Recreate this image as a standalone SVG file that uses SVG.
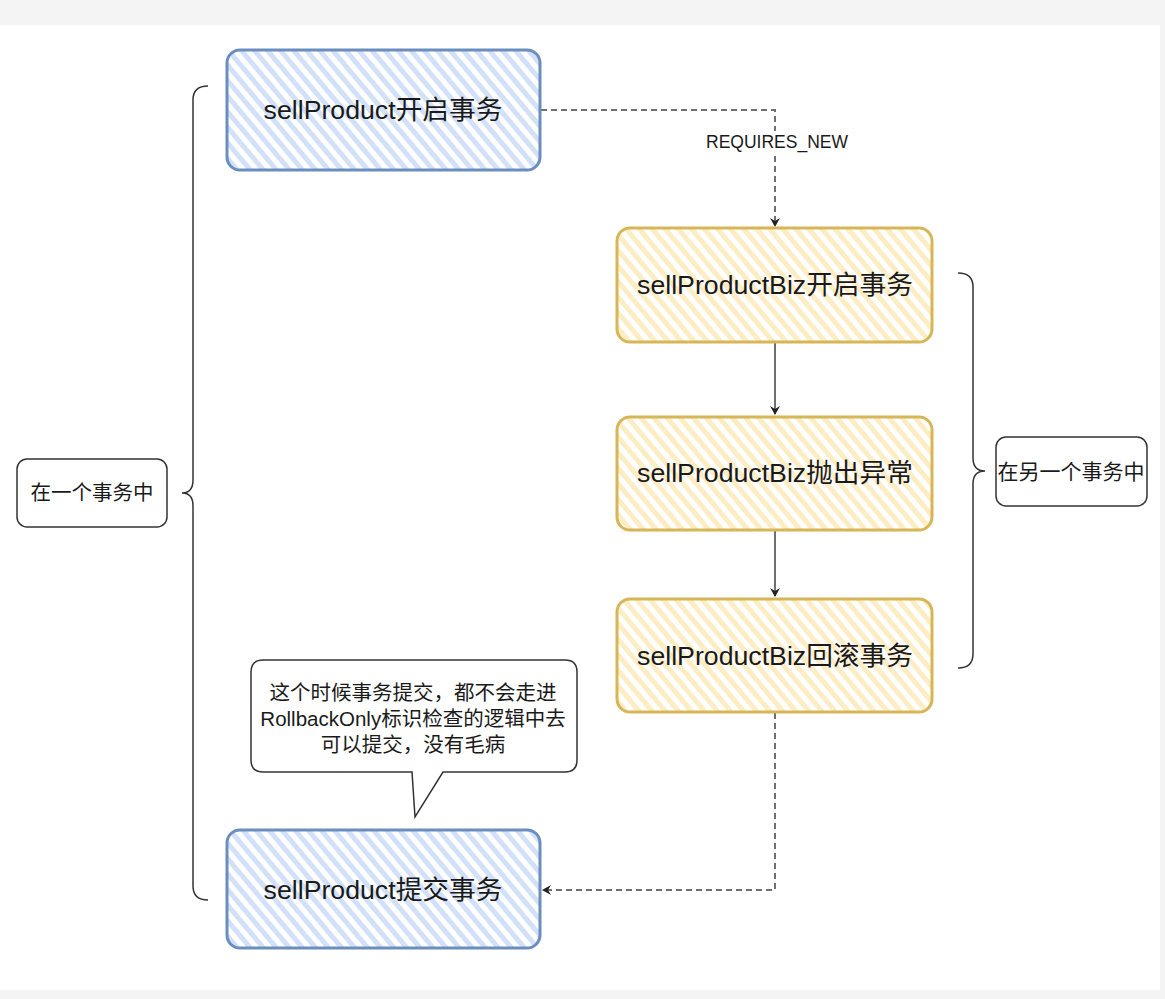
<svg xmlns="http://www.w3.org/2000/svg" width="1165" height="999" viewBox="0 0 1165 999">
<style>
text { font-family: "Liberation Sans", Arial, "Noto Sans CJK SC", sans-serif; fill: #1a1a1a; }
.big { font-size: 26.7px; }
.blue { fill: url(#hatchBlue); stroke: #6c8ebf; stroke-width: 3; }
.yellow { fill: url(#hatchYellow); stroke: #d6b656; stroke-width: 3; }
.plain { fill: #ffffff; stroke: #333333; stroke-width: 1.5; }
.brace { fill: none; stroke: #333333; stroke-width: 1.5; }
.dash { fill: none; stroke: #707070; stroke-width: 2; stroke-dasharray: 6 4; }
.solid { fill: none; stroke: #707070; stroke-width: 2; }
</style>
<defs>
<pattern id="hatchBlue" patternUnits="userSpaceOnUse" width="10" height="10" patternTransform="rotate(-40)">
<rect width="10" height="10" fill="#ffffff"/>
<rect width="5" height="10" fill="#d2e1f8"/>
</pattern>
<pattern id="hatchYellow" patternUnits="userSpaceOnUse" width="10" height="10" patternTransform="rotate(-40)">
<rect width="10" height="10" fill="#ffffff"/>
<rect width="5" height="10" fill="#fdedc4"/>
</pattern>
<marker id="arr" markerWidth="10" markerHeight="10" refX="8" refY="5" orient="auto" markerUnits="userSpaceOnUse">
<path d="M0,0 L9,5 L0,10 L3,5 Z" fill="#222222"/>
</marker>
</defs>
<rect x="0" y="0" width="1165" height="999" fill="#f4f4f4"/>
<rect x="0" y="25" width="1160" height="965" fill="#ffffff"/>

<g id="connectors">
<path class="dash" d="M541,110 L775,110 L775,226" marker-end="url(#arr)"/>
<rect x="703" y="131" width="148" height="22" fill="#ffffff"/>
<text x="777" y="148" text-anchor="middle" font-size="17.5" fill="#222">REQUIRES_NEW</text>
<path class="solid" d="M775,343 L775,414" marker-end="url(#arr)"/>
<path class="solid" d="M775,531 L775,596" marker-end="url(#arr)"/>
<path class="dash" d="M775,713 L775,890 L543,890" marker-end="url(#arr)"/>
</g>

<g id="node-start">
<rect class="blue" x="227" y="50" width="313" height="120" rx="13"/>
<text class="big" x="383" y="119" text-anchor="middle">sellProduct开启事务</text>
</g>
<g id="node-biz-start">
<rect class="yellow" x="617" y="228" width="315" height="114" rx="13"/>
<text class="big" x="775" y="294" text-anchor="middle">sellProductBiz开启事务</text>
</g>
<g id="node-biz-throw">
<rect class="yellow" x="617" y="417" width="315" height="113" rx="13"/>
<text class="big" x="775" y="482" text-anchor="middle">sellProductBiz抛出异常</text>
</g>
<g id="node-biz-rollback">
<rect class="yellow" x="617" y="599" width="315" height="113" rx="13"/>
<text class="big" x="775" y="665" text-anchor="middle">sellProductBiz回滚事务</text>
</g>
<g id="node-commit">
<rect class="blue" x="227" y="830" width="313" height="118" rx="13"/>
<text class="big" x="383" y="899" text-anchor="middle">sellProduct提交事务</text>
</g>

<g id="brace-left">
<path class="brace" d="M208,86 Q193,86 193,100 L193,480 Q193,493 182,493 Q193,493 193,506 L193,886 Q193,900 208,900"/>
</g>
<g id="brace-right">
<path class="brace" d="M958,273 Q973,273 973,287 L973,458 Q973,471 985,471 Q973,471 973,484 L973,654 Q973,668 958,668"/>
</g>

<g id="label-one-tx">
<rect class="plain" x="17" y="459" width="150" height="68" rx="10"/>
<text x="92" y="500" text-anchor="middle" font-size="20.5">在一个事务中</text>
</g>
<g id="label-other-tx">
<rect class="plain" x="996" y="437" width="151" height="69" rx="10"/>
<text x="1071" y="479" text-anchor="middle" font-size="21">在另一个事务中</text>
</g>

<g id="callout">
<path class="plain" d="M263,660 L565,660 Q577,660 577,672 L577,760 Q577,772 565,772 L443,772 L415,817 L412,772 L263,772 Q251,772 251,760 L251,672 Q251,660 263,660 Z"/>
<text x="413" y="700" text-anchor="middle" font-size="20.5">这个时候事务提交，都不会走进</text>
<text x="413" y="726" text-anchor="middle" font-size="20.5">RollbackOnly标识检查的逻辑中去</text>
<text x="413" y="752" text-anchor="middle" font-size="20.5">可以提交，没有毛病</text>
</g>
</svg>
